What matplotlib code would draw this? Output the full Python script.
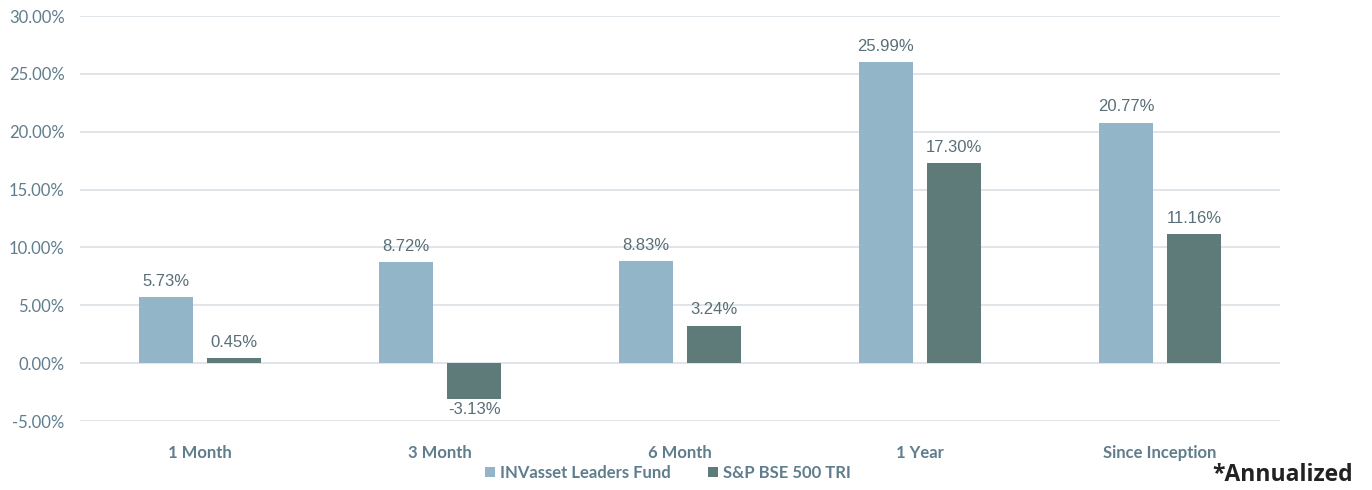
import numpy as np
import matplotlib.pyplot as plt
from matplotlib.ticker import FuncFormatter

# データ
categories = ["1 Month", "3 Month", "6 Month", "1 Year", "Since Inception"]
fund = [5.73, 8.72, 8.83, 25.99, 20.77]
bench = [0.45, -3.13, 3.24, 17.30, 11.16]
series_names = ["INVasset Leaders Fund", "S&P BSE 500 TRI"]

light = "#92B6C8"
dark = "#5E7B7A"
text_col = "#5F7D8C"
label_col = "#596E78"

fig = plt.figure(figsize=(13.72, 4.9), dpi=100)
ax = fig.add_axes([0.0583, 0.1408, 0.8747, 0.8265])

x = np.arange(len(categories))
w = 0.225
b1 = ax.bar(x - 0.142, fund, w, color=light, zorder=3, label=series_names[0])
b2 = ax.bar(x + 0.142, bench, w, color=dark, zorder=3, label=series_names[1])

# 値ラベル
for rect, v in zip(list(b1) + list(b2), fund + bench):
    cx = rect.get_x() + rect.get_width() / 2
    if v >= 0:
        ax.annotate(f"{v:.2f}%", (cx, v), xytext=(0, 6), textcoords="offset points",
                    ha="center", va="bottom", fontsize=12, color=label_col,
                    family="Liberation Sans")
    else:
        ax.annotate(f"{v:.2f}%", (cx, v), xytext=(0, -2), textcoords="offset points",
                    ha="center", va="top", fontsize=12, color=label_col,
                    family="Liberation Sans")

ax.set_xlim(-0.5, len(categories) - 0.5)
ax.set_ylim(-5, 30)
ax.set_yticks(np.arange(-5, 31, 5))
ax.yaxis.set_major_formatter(FuncFormatter(lambda v, p: f"{v:.2f}%"))
ax.grid(axis="y", color="#DDE3E8", linewidth=1.3, zorder=0)
for s in ax.spines.values():
    s.set_visible(False)
ax.tick_params(axis="both", length=0)
ax.tick_params(axis="y", labelsize=12, labelcolor=text_col, pad=11)
ax.set_xticks(x)
ax.set_xticklabels(categories, fontsize=12, color=text_col, fontweight="bold",
                   family="Lato")
for t in ax.get_yticklabels():
    t.set_family("Lato")
ax.tick_params(axis="x", pad=17)

leg = ax.legend(loc="upper center", bbox_to_anchor=(0.49, -0.088), ncol=2,
                frameon=False, handlelength=0.6, handleheight=0.6,
                handletextpad=0.3, columnspacing=2.2, borderpad=0,
                prop={"family": "Lato", "weight": "bold", "size": 12})
for t in leg.get_texts():
    t.set_color(text_col)

fig.text(0.986, 0.006, "*Annualized", ha="right", va="bottom", fontsize=16.5,
         fontweight="bold", color="#222222", family="Open Sans")

plt.savefig("out.png", dpi=100)
